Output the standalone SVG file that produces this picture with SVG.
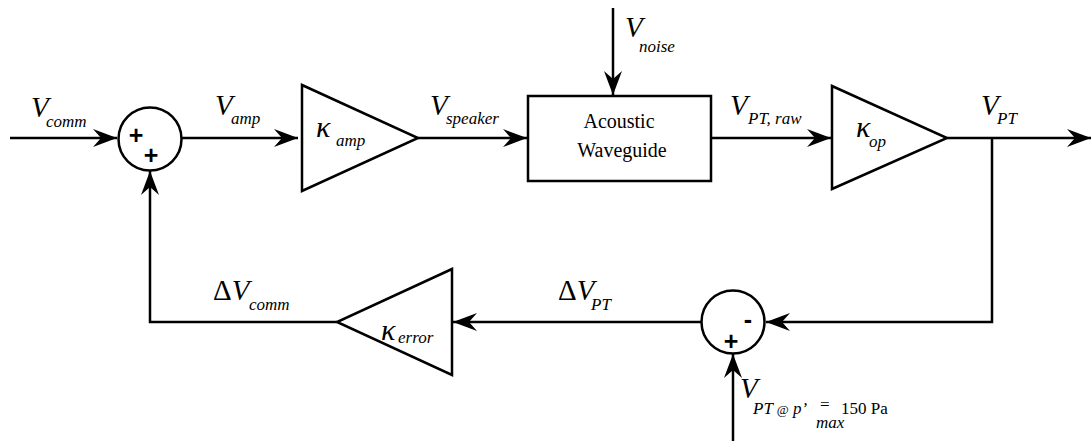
<svg xmlns="http://www.w3.org/2000/svg" width="1092" height="441" viewBox="0 0 1092 441">
<style>
.ln{fill:none;stroke:#000;stroke-width:2.5}
.sh{fill:#fff;stroke:#000;stroke-width:2.5}
.v{font-style:italic;font-size:29px}
.s{font-size:17px}
.rm{font-style:normal}
.k{font-style:italic;font-size:30px}
.box{font-size:20px}
.pl{font-weight:bold;font-size:25px}
</style>
<defs>
<marker id="ah" markerWidth="26" markerHeight="20" viewBox="-25 -10 26 20" refX="0" refY="0" orient="auto" markerUnits="userSpaceOnUse">
<path d="M0,0 L-24,-9 L-16,0 L-24,9 Z" fill="#000"/>
</marker>
</defs>
<g id="connectors">
<line class="ln" x1="10" y1="138" x2="117" y2="138" marker-end="url(#ah)"/>
<line class="ln" x1="182" y1="138" x2="298" y2="138" marker-end="url(#ah)"/>
<line class="ln" x1="418" y1="138" x2="527" y2="138" marker-end="url(#ah)"/>
<line class="ln" x1="613" y1="8" x2="613" y2="95" marker-end="url(#ah)"/>
<line class="ln" x1="711" y1="138" x2="831" y2="138" marker-end="url(#ah)"/>
<line class="ln" x1="947" y1="138" x2="1091" y2="138" marker-end="url(#ah)"/>
<polyline class="ln" points="992,138 992,322 766,322" marker-end="url(#ah)"/>
<line class="ln" x1="702" y1="322" x2="453" y2="322" marker-end="url(#ah)"/>
<polyline class="ln" points="337,322 150,322 150,171" marker-end="url(#ah)"/>
<line class="ln" x1="733" y1="441" x2="733" y2="354" marker-end="url(#ah)"/>
</g>
<g id="sum1" font-family="Liberation Sans, Arial, sans-serif">
<circle class="sh" cx="150" cy="139" r="31.5"/>
<text class="pl" text-anchor="middle"><tspan x="136" y="144">+</tspan><tspan x="151" y="164">+</tspan></text>
</g>
<g id="amp" font-family="Liberation Serif, Times New Roman, serif">
<polygon class="sh" points="302,85 418,138 302,191"/>
<text class="k"><tspan x="316" y="137">κ</tspan><tspan class="s" x="336" y="146">amp</tspan></text>
</g>
<g id="waveguide" font-family="Liberation Serif, Times New Roman, serif">
<rect class="sh" x="528" y="96" width="183" height="85"/>
<text class="box" text-anchor="middle"><tspan x="619" y="128">Acoustic</tspan><tspan x="622" y="157">Waveguide</tspan></text>
</g>
<g id="op" font-family="Liberation Serif, Times New Roman, serif">
<polygon class="sh" points="832,86 947,138 832,189"/>
<text class="k"><tspan x="856" y="137">κ</tspan><tspan class="s" x="869" y="147">op</tspan></text>
</g>
<g id="sum2" font-family="Liberation Sans, Arial, sans-serif">
<circle class="sh" cx="733" cy="322" r="31.5"/>
<text class="pl" text-anchor="middle"><tspan x="748" y="328">-</tspan><tspan x="731" y="350">+</tspan></text>
</g>
<g id="error" font-family="Liberation Serif, Times New Roman, serif">
<polygon class="sh" points="452,269 337,322 452,375"/>
<text class="k"><tspan x="381" y="340">κ</tspan><tspan class="s" x="398" y="343">error</tspan></text>
</g>
<g id="labels" font-family="Liberation Serif, Times New Roman, serif">
<text class="v"><tspan x="31" y="117">V</tspan><tspan class="s" x="46" y="127">comm</tspan></text>
<text class="v"><tspan x="215" y="115">V</tspan><tspan class="s" x="231" y="124">amp</tspan></text>
<text class="v"><tspan x="430" y="115">V</tspan><tspan class="s" x="446" y="124">speaker</tspan></text>
<text class="v"><tspan x="625" y="37">V</tspan><tspan class="s" x="639" y="52">noise</tspan></text>
<text class="v"><tspan x="730" y="115">V</tspan><tspan class="s" x="748" y="124">PT, raw</tspan></text>
<text class="v"><tspan x="981" y="115">V</tspan><tspan class="s" x="997" y="124">PT</tspan></text>
<text class="v"><tspan class="rm" x="213" y="300">Δ</tspan><tspan>V</tspan><tspan class="s" x="249" y="310">comm</tspan></text>
<text class="v"><tspan class="rm" x="558" y="300">Δ</tspan><tspan>V</tspan><tspan class="s" x="591" y="310">PT</tspan></text>
<text class="v"><tspan x="740" y="398">V</tspan><tspan class="s" x="753" y="414">PT </tspan><tspan class="rm" font-size="13">@</tspan><tspan class="s"> p’</tspan><tspan class="s rm" x="820" y="410">=</tspan><tspan class="s" x="816" y="428">max</tspan><tspan class="s rm" x="841" y="414">150 Pa</tspan></text>
</g>
</svg>
